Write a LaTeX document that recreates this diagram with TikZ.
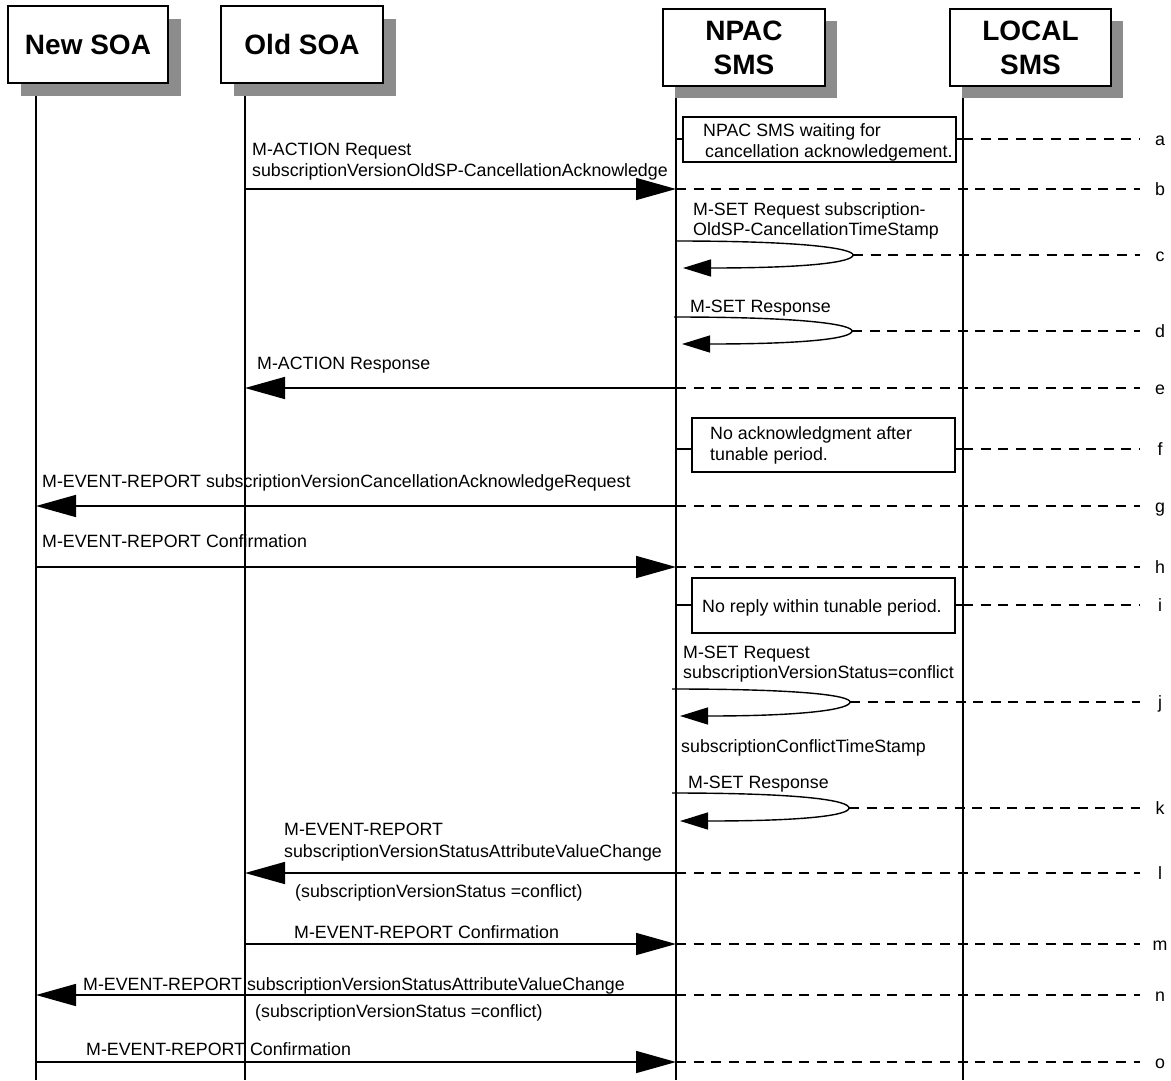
\documentclass[tikz,border=0pt]{standalone}
\usepackage{fontspec}
\setmainfont{Liberation Sans}
\usetikzlibrary{arrows.meta}
\definecolor{shd}{RGB}{140,140,140}
\begin{document}
\begin{tikzpicture}[x=1pt,y=-1pt,
  hdr/.style={draw, line width=1.6pt, fill=white, font=\fontsize{28}{34}\selectfont\bfseries, align=center, inner sep=0pt},
  life/.style={line width=1.6pt},
  msg/.style={line width=1.6pt, -{Triangle[length=40pt,width=22pt]}},
  selfmsg/.style={line width=1.4pt, -{Triangle[length=28pt,width=17pt]}},
  dsh/.style={line width=1.6pt, dash pattern=on 10pt off 7.6pt},
  solid1/.style={line width=1.6pt},
  lbl/.style={font=\fontsize{17.8}{21}\selectfont, anchor=base west, inner sep=0pt},
  tag/.style={font=\fontsize{17.8}{21}\selectfont, anchor=base, inner sep=0pt},
  notebox/.style={draw, line width=1.6pt, fill=white, inner sep=0pt}
]
\useasboundingbox (0,0) rectangle (1171,1080);

% ---- lifelines
\coordinate (nsT) at (36,96);  \coordinate (nsB) at (36,1080);
\coordinate (osT) at (245,96); \coordinate (osB) at (245,1080);
\coordinate (npT) at (676,98); \coordinate (npB) at (676,1080);
\coordinate (lcT) at (963,98); \coordinate (lcB) at (963,1080);
\draw[life] (nsT) -- (nsB);
\draw[life] (osT) -- (osB);
\draw[life] (npT) -- (npB);
\draw[life] (lcT) -- (lcB);

% ---- header boxes with shadows
\fill[shd] (21,19) rectangle (181,96);
\node[hdr, minimum width=160pt, minimum height=77pt] (ns) at (88,44.5) {New SOA};
\fill[shd] (234,19) rectangle (396,96);
\node[hdr, minimum width=162pt, minimum height=77pt] (os) at (302,44.5) {Old SOA};
\fill[shd] (675,21) rectangle (837,98);
\node[hdr, minimum width=162pt, minimum height=77pt] (np) at (744,47.5) {NPAC\\SMS};
\fill[shd] (962,21) rectangle (1123,98);
\node[hdr, minimum width=161pt, minimum height=77pt] (lc) at (1030.5,47.5) {LOCAL\\SMS};

% ---- a : note
\node[notebox, minimum width=273pt, minimum height=45pt] (na) at (819.5,139.5) {};
\node[lbl] (ta1) at (703,136) {NPAC SMS waiting for};
\node[lbl] (ta2) at (705,157) {cancellation acknowledgement.};
\coordinate (a0) at (676,139); \coordinate (a1) at (963,139); \coordinate (aE) at (1140,139);
\draw[solid1] (a0) -- (na.west |- a0);
\draw[solid1] (na.east |- a1) -- (a1);
\draw[dsh] (a1) -- (aE);
\node[tag] (la) at (1160,145) {a};

% ---- b
\node[lbl] (tb1) at (252,155) {M-ACTION Request};
\node[lbl] (tb2) at (252,176) {subscriptionVersionOldSP-CancellationAcknowledge};
\coordinate (b0) at (245,189); \coordinate (b1) at (676,189); \coordinate (bE) at (1140,189);
\draw[msg] (b0) -- (b1);
\draw[dsh] (b1) -- (bE);
\node[tag] (lb) at (1160,195) {b};

% ---- c : self message
\node[lbl] (tc1) at (693,215) {M-SET Request subscription-};
\node[lbl] (tc2) at (693,235) {OldSP-CancellationTimeStamp};
\coordinate (c0) at (676,241); \coordinate (cA) at (853,255); \coordinate (c1) at (683,268); \coordinate (cE) at (1140,255);
\draw[selfmsg] (c0) .. controls (810,241) and (853,249) .. (cA) .. controls (853,262) and (810,268) .. (c1);
\draw[dsh] (cA) -- (cE);
\node[tag] (lcc) at (1160,261) {c};

% ---- d : self message
\node[lbl] (td1) at (690,312) {M-SET Response};
\coordinate (d0) at (674,317); \coordinate (dA) at (852,331); \coordinate (d1) at (682,344); \coordinate (dE) at (1140,331);
\draw[selfmsg] (d0) .. controls (810,317) and (852,325) .. (dA) .. controls (852,338) and (810,344) .. (d1);
\draw[dsh] (dA) -- (dE);
\node[tag] (ld) at (1160,337) {d};

% ---- e
\node[lbl] (te1) at (257,369) {M-ACTION Response};
\coordinate (e0) at (676,388); \coordinate (e1) at (245,388); \coordinate (eE) at (1140,388);
\draw[msg] (e0) -- (e1);
\draw[dsh] (e0) -- (eE);
\node[tag] (le) at (1160,394) {e};

% ---- f : note
\node[notebox, minimum width=263pt, minimum height=54pt] (nf) at (823.5,445) {};
\node[lbl] (tf1) at (710,439) {No acknowledgment after};
\node[lbl] (tf2) at (710,460) {tunable period.};
\coordinate (f0) at (676,449); \coordinate (f1) at (963,449); \coordinate (fE) at (1140,449);
\draw[solid1] (f0) -- (nf.west |- f0);
\draw[solid1] (nf.east |- f1) -- (f1);
\draw[dsh] (f1) -- (fE);
\node[tag] (lf) at (1160,455) {f};

% ---- g
\node[lbl] (tg1) at (42,487) {M-EVENT-REPORT subscriptionVersionCancellationAcknowledgeRequest};
\coordinate (g0) at (676,506); \coordinate (g1) at (36,506); \coordinate (gE) at (1140,506);
\draw[msg] (g0) -- (g1);
\draw[dsh] (g0) -- (gE);
\node[tag] (lg) at (1160,512) {g};

% ---- h
\node[lbl] (th1) at (42,547) {M-EVENT-REPORT Confirmation};
\coordinate (h0) at (36,567); \coordinate (h1) at (676,567); \coordinate (hE) at (1140,567);
\draw[msg] (h0) -- (h1);
\draw[dsh] (h1) -- (hE);
\node[tag] (lh) at (1160,573) {h};

% ---- i : note
\node[notebox, minimum width=263pt, minimum height=55pt] (ni) at (823.5,605.5) {};
\node[lbl] (ti1) at (702,612) {No reply within tunable period.};
\coordinate (i0) at (676,605); \coordinate (i1) at (963,605); \coordinate (iE) at (1140,605);
\draw[solid1] (i0) -- (ni.west |- i0);
\draw[solid1] (ni.east |- i1) -- (i1);
\draw[dsh] (i1) -- (iE);
\node[tag] (li) at (1160,611) {i};

% ---- j : self message
\node[lbl] (tj1) at (683,658) {M-SET Request};
\node[lbl] (tj2) at (683,678) {subscriptionVersionStatus=conflict};
\coordinate (j0) at (672,689); \coordinate (jA) at (850,702); \coordinate (j1) at (680,716); \coordinate (jE) at (1140,702);
\draw[selfmsg] (j0) .. controls (808,689) and (850,696) .. (jA) .. controls (850,709) and (808,716) .. (j1);
\draw[dsh] (jA) -- (jE);
\node[tag] (lj) at (1160,708) {j};
\node[lbl] (tj3) at (681,752) {subscriptionConflictTimeStamp};

% ---- k : self message
\node[lbl] (tk1) at (688,788) {M-SET Response};
\coordinate (k0) at (672,793); \coordinate (kA) at (849,808); \coordinate (k1) at (680,821); \coordinate (kE) at (1140,808);
\draw[selfmsg] (k0) .. controls (808,793) and (849,801) .. (kA) .. controls (849,815) and (808,821) .. (k1);
\draw[dsh] (kA) -- (kE);
\node[tag] (lk) at (1160,814) {k};

% ---- l
\node[lbl] (tl1) at (284,835) {M-EVENT-REPORT};
\node[lbl] (tl2) at (284,857) {subscriptionVersionStatusAttributeValueChange};
\node[lbl] (tl3) at (295,897) {(subscriptionVersionStatus =conflict)};
\coordinate (l0) at (676,873); \coordinate (l1) at (245,873); \coordinate (lE) at (1140,873);
\draw[msg] (l0) -- (l1);
\draw[dsh] (l0) -- (lE);
\node[tag] (ll) at (1160,879) {l};

% ---- m
\node[lbl] (tm1) at (294,938) {M-EVENT-REPORT Confirmation};
\coordinate (m0) at (245,944); \coordinate (m1) at (676,944); \coordinate (mE) at (1140,944);
\draw[msg] (m0) -- (m1);
\draw[dsh] (m1) -- (mE);
\node[tag] (lm) at (1160,950) {m};

% ---- n
\node[lbl] (tn1) at (83,990) {M-EVENT-REPORT subscriptionVersionStatusAttributeValueChange};
\node[lbl] (tn2) at (255,1017) {(subscriptionVersionStatus =conflict)};
\coordinate (n0) at (676,995); \coordinate (n1) at (36,995); \coordinate (nE) at (1140,995);
\draw[msg] (n0) -- (n1);
\draw[dsh] (n0) -- (nE);
\node[tag] (ln) at (1160,1001) {n};

% ---- o
\node[lbl] (to1) at (86,1055) {M-EVENT-REPORT Confirmation};
\coordinate (o0) at (36,1062); \coordinate (o1) at (676,1062); \coordinate (oE) at (1140,1062);
\draw[msg] (o0) -- (o1);
\draw[dsh] (o1) -- (oE);
\node[tag] (lo) at (1160,1068) {o};
\end{tikzpicture}
\end{document}
